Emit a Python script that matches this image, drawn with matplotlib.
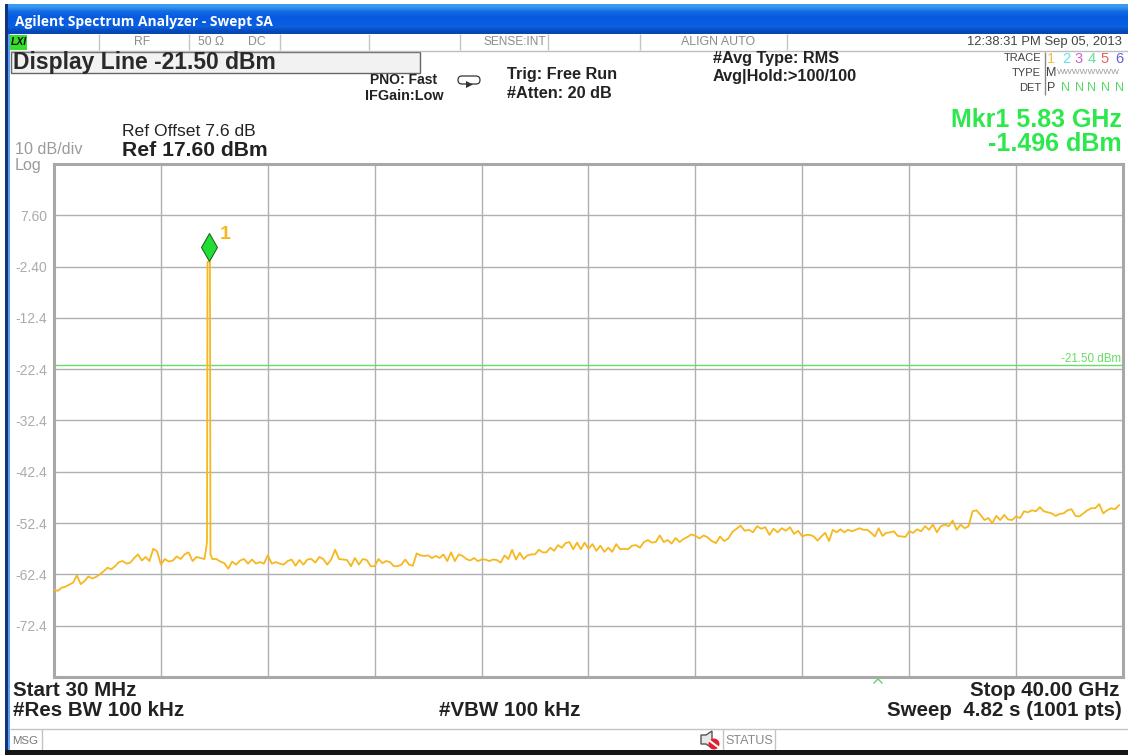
import numpy as np
import matplotlib
matplotlib.use("Agg")
import matplotlib.pyplot as plt
from matplotlib.patches import Rectangle, Circle, Polygon, FancyBboxPatch
from matplotlib.transforms import offset_copy

plt.rcParams['font.family'] = ['Liberation Sans', 'DejaVu Sans']

# ---------- data ----------
start_ghz, stop_ghz = 0.03, 40.0
ref_level, db_per_div = 17.6, 10.0
display_line = -21.5
marker_freq, marker_level = 5.83, -1.496
y_tick_values = [7.6, -2.4, -12.4, -22.4, -32.4, -42.4, -52.4, -62.4, -72.4]
y_tick_labels = ['7.60', '-2.40', '-12.4', '-22.4', '-32.4', '-42.4', '-52.4', '-62.4', '-72.4']

div1 = [-65.4,-65.6,-65.0,-64.8,-64.4,-64.0,-62.6,-64.3,-63.7,-62.8,-63.2,-62.9,-62.4,-61.8,-61.1,-61.4,-60.8,-60.0,-59.8,-60.3,-60.1,-59.2,-58.5,-59.7,-59.0,-59.8,-57.4,-57.9]
div2 = [-60.5,-59.4,-59.9,-59.7,-58.9,-59.4,-58.5,-58.1,-59.8,-59.0,-59.2,-59.4,-58.5,-59.4,-59.4,-59.9,-60.2,-61.3,-59.9,-60.5,-59.7,-59.4,-60.3,-59.5,-60.3,-60.0,-60.3]
div3 = [-58.7,-60.3,-60.0,-60.3,-60.5,-59.8,-59.5,-60.7,-59.6,-60.5,-59.5,-59.4,-60.1,-59.0,-59.4,-60.5,-59.5,-57.6,-59.4,-59.5,-59.6,-60.8,-59.2,-60.5,-59.4,-59.6,-60.8]
div4 = [-60.8,-59.4,-60.2,-59.8,-60.0,-60.8,-60.8,-60.5,-59.5,-60.5,-60.7,-58.3,-58.7,-58.8,-58.7,-59.2,-58.8,-59.2,-58.5,-59.8,-58.1,-59.8,-58.5,-58.8,-59.4,-59.7,-59.2,-59.8]
div5 = [-59.5,-59.5,-59.8,-59.5,-59.6,-60.1,-58.7,-59.4,-57.6,-59.5,-58.2,-59.4,-58.7,-58.5,-58.5,-57.6,-58.1,-58.1,-57.2,-57.8,-56.7,-57.2,-56.3,-56.1,-57.5,-56.2,-57.5,-56.2]
div6 = [-57.4,-56.5,-57.8,-56.8,-58.0,-57.2,-58.0,-56.5,-57.5,-57.4,-57.5,-56.8,-56.7,-57.2,-56.1,-55.7,-56.2,-56.1,-54.8,-56.1,-55.7,-56.4,-55.3,-56.1,-55.5,-55.1,-54.6]
div7 = [-54.9,-55.4,-54.8,-55.2,-55.9,-56.3,-55.0,-55.9,-55.4,-54.1,-53.5,-52.9,-53.9,-53.7,-54.2,-53.0,-53.5,-53.2,-54.7,-53.5,-54.2,-53.4,-53.9,-53.2,-54.5,-53.9]
div8 = [-55.0,-54.7,-54.7,-55.0,-55.8,-55.0,-54.3,-55.9,-53.7,-54.2,-53.6,-54.2,-53.7,-54.0,-53.7,-53.4,-53.7,-53.7,-54.3,-55.0,-53.4,-54.9,-54.3,-54.2,-54.0,-54.9,-55.0,-55.1]
div9 = [-54.0,-54.3,-53.6,-54.0,-53.0,-53.7,-52.7,-54.2,-53.0,-52.7,-53.0,-51.9,-53.7,-52.7,-53.4,-53.0,-50.1,-49.9,-50.8,-51.8,-51.4,-52.4,-51.0,-51.8,-50.8,-51.7,-51.8]
div10 = [-51.1,-51.4,-50.1,-50.3,-49.9,-50.1,-49.3,-50.1,-50.3,-50.5,-51.0,-50.6,-50.5,-49.9,-49.7,-51.0,-51.1,-50.5,-49.9,-49.5,-49.5,-48.7,-50.5,-49.9,-49.5,-49.7,-48.9]
spike_freqs = [5.70, 5.75, 5.77, 5.86, 5.88]
spike_levels = [-58.0, -56.1, -1.496, -1.496, -58.5]

divisions = [div1, div2, div3, div4, div5, div6, div7, div8, div9, div10]
span = (stop_ghz - start_ghz) / 10
freqs, levels = [], []
for k, d in enumerate(divisions):
    f = np.linspace(start_ghz + k * span, start_ghz + (k + 1) * span, len(d), endpoint=False)
    freqs.extend(f); levels.extend(d)
freqs = np.array(freqs + spike_freqs)
levels = np.array(levels + spike_levels)
keep = np.ones(len(freqs), bool)
keep[:-5] = (freqs[:-5] < 5.70) | (freqs[:-5] > 5.88)
freqs, levels = freqs[keep], levels[keep]
order = np.argsort(freqs, kind='stable')
freqs, levels = freqs[order], levels[order]

# ---------- figure ----------
W, H = 1128, 755
fig = plt.figure(figsize=(W / 100, H / 100), dpi=100, facecolor='white')
c = fig.add_axes([0, 0, 1, 1], zorder=0)

grad = np.array([[0.23, 0.60, 0.93], [0.07, 0.42, 0.90], [0.03, 0.36, 0.88], [0.03, 0.36, 0.88], [0.04, 0.38, 0.88], [0.02, 0.28, 0.72]])[:, None, :]
c.imshow(grad, extent=[5, W, 34, 4], aspect='auto', interpolation='bilinear', zorder=1)
c.set_xlim(0, W); c.set_ylim(H, 0); c.axis('off')

def rect(x0, y0, x1, y1, **kw):
    c.add_patch(Rectangle((x0, y0), x1 - x0, y1 - y0, **kw))
def hline(y, x0, x1, col='#c4c4c4', lw=1.0):
    c.plot([x0, x1], [y, y], color=col, lw=lw, solid_capstyle='butt')
def vline(x, y0, y1, col='#c4c4c4', lw=1.0):
    c.plot([x, x], [y0, y1], color=col, lw=lw, solid_capstyle='butt')
def t(x, y, s, size=10, weight='normal', color='#222222', ha='left', **kw):
    return c.text(x, y, s, fontsize=size, fontweight=weight, color=color, ha=ha, va='center', **kw)

rect(5, 4, 7.5, 750, color='#14327a', lw=0, zorder=2)
rect(7.5, 34, 10, 750, color='#5aa0ee', lw=0, zorder=2)
rect(5, 750, W, H, color='#161616', lw=0, zorder=3)

t(15, 22, 'Agilent Spectrum Analyzer - Swept SA', size=9.9, weight='bold', color='white', family=['Open Sans', 'DejaVu Sans'], zorder=4)

# status row
hline(50.5, 10, W, '#bdbdbd')
for x in [99, 189, 280, 369, 460, 548, 640, 787]:
    vline(x, 34, 50)
rect(10, 35, 27, 49.5, color='#35e02c', lw=0, zorder=2)
t(11, 42, 'LXI', size=7.5, weight='bold', color='#111111', style='italic', zorder=4)
gray = '#8c8c8c'
t(142, 42, 'RF', size=8.8, color=gray, ha='center')
t(198, 42, '50 Ω', size=8.8, color=gray)
t(248, 42, 'DC', size=8.8, color=gray)
t(483, 42, 'SENSE:INT', size=8.6, color=gray)
t(681, 42, 'ALIGN AUTO', size=8.9, color=gray)
t(1122, 42, '12:38:31 PM Sep 05, 2013', size=9.4, color='#444444', ha='right')

# display-line box
rect(11, 52, 420, 73, facecolor='#f2f2f2', edgecolor='#666666', lw=1.0)
t(13, 62, 'Display Line -21.50 dBm', size=16.5, weight='bold', color='#2a2a2a')

# settings
t(437, 80, 'PNO: Fast', size=10, weight='bold', ha='right')
t(444, 96, 'IFGain:Low', size=10.4, weight='bold', ha='right')
c.add_patch(FancyBboxPatch((458, 76), 22, 8, boxstyle='round,pad=0,rounding_size=4', fc='white', ec='#333333', lw=0.9))
c.add_patch(Polygon([[466, 81], [466, 88], [473, 84.5]], closed=True, fc='#333333', lw=0))
t(507, 75, 'Trig: Free Run', size=11.7, weight='bold')
t(507, 93, '#Atten: 20 dB', size=11.7, weight='bold')
t(713, 59, '#Avg Type: RMS', size=11.7, weight='bold')
t(713, 76, 'Avg|Hold:>100/100', size=11.7, weight='bold')

# trace table
for y, s in [(58, 'TRACE'), (73, 'TYPE'), (88, 'DET')]:
    t(1041, y, s, size=8, color='#444444', ha='right')
vline(1045, 52, 95, '#888888')
digit_x = [1051, 1066, 1079, 1092, 1105, 1119]
digit_c = ['#f5c040', '#5fe0e8', '#d060d0', '#60e0a0', '#e86060', '#6060d8']
for x, s, col in zip(digit_x, '123456', digit_c):
    t(x, 59, s, size=10.5, color=col, ha='center')
t(1051, 73, 'M', size=9, color='#444444', ha='center')
t(1057, 73, 'WWWWWWWW', size=6, color='#999999')
t(1051, 88, 'P', size=9, color='#444444', ha='center')
for x in digit_x[1:]:
    t(x, 88, 'N', size=9, color='#55dd66', ha='center')

# marker readout
mk = '#2ce84c'
t(1122, 120, 'Mkr1 5.83 GHz', size=18, weight='bold', color=mk, ha='right')
t(1122, 144, '-1.496 dBm', size=18, weight='bold', color=mk, ha='right')

# reference text
t(122, 132, 'Ref Offset 7.6 dB', size=12.6, color='#222222')
t(122, 150, 'Ref 17.60 dBm', size=15.2, weight='bold')
t(15, 149, '10 dB/div', size=11.6, color='#9a9a9a')
t(15, 165.5, 'Log', size=11.6, color='#9a9a9a')

# footer
t(13, 690, 'Start 30 MHz', size=14.8, weight='bold')
t(13, 711, '#Res BW 100 kHz', size=14.8, weight='bold')
t(439, 711, '#VBW 100 kHz', size=14.8, weight='bold')
t(1120, 690, 'Stop 40.00 GHz', size=14.8, weight='bold', ha='right')
t(1122, 711, 'Sweep  4.82 s (1001 pts)', size=14.8, weight='bold', ha='right')
c.plot([874, 878, 882], [683, 679, 683], color='#55dd66', lw=1.0)

hline(728.5, 10, W)
vline(42, 729, 750)
vline(723, 729, 750)
vline(775, 729, 750)
t(12, 741, 'MSG', size=8.2, color='#777777')
t(725, 741, 'STATUS', size=9, color='#888888')
c.add_patch(Polygon([[701, 735], [706, 735], [712, 731], [712, 748], [706, 744], [701, 744]], closed=True, fc='#e8e8e8', ec='#555555', lw=1))
c.add_patch(Circle((714, 744), 5.5, fc='#e02030', ec='none', zorder=4))
c.plot([710, 718], [741, 747], color='white', lw=1.5, zorder=5)

# ---------- spectrum plot ----------
ax = fig.add_axes([54 / W, 1 - 677 / H, (1123 - 54) / W, (677 - 164) / H], zorder=1)
ax.set_facecolor('white')
ax.set_xlim(start_ghz, stop_ghz)
ax.set_ylim(ref_level - 10 * db_per_div, ref_level)
ax.set_xticks(np.linspace(start_ghz, stop_ghz, 11))
ax.set_xticklabels([])
ax.set_yticks(y_tick_values)
ax.set_yticklabels(y_tick_labels, fontsize=10, color='#ababab')
ax.tick_params(length=0, pad=5)
ax.grid(True, color='#b0b0b0', lw=1.0)
ax.set_axisbelow(True)
for s in ax.spines.values():
    s.set_color('#a8a8a8'); s.set_linewidth(2.2)

ax.axhline(display_line, color='#66dd66', lw=1.0, zorder=2)
ax.text(0.9985, display_line, '-21.50 dBm', transform=ax.get_yaxis_transform(), ha='right', va='bottom', fontsize=8.4, color='#66dd66')
ax.plot(freqs, levels, color='#f6b81e', lw=1.3, zorder=3, solid_joinstyle='round')

tr = offset_copy(ax.transData, fig=fig, y=11, units='points')
ax.plot([marker_freq], [marker_level], transform=tr, marker='d', ms=14, mfc='#22dd33', mec='#145a20', mew=0.7, ls='none', zorder=4, clip_on=False)
tr2 = offset_copy(ax.transData, fig=fig, x=8, y=19.5, units='points')
ax.text(marker_freq, marker_level, '1', transform=tr2, color='#f6b81e', fontsize=14, fontweight='bold', ha='left', va='center', zorder=4)

fig.savefig('out.png', dpi=100, facecolor='white')
